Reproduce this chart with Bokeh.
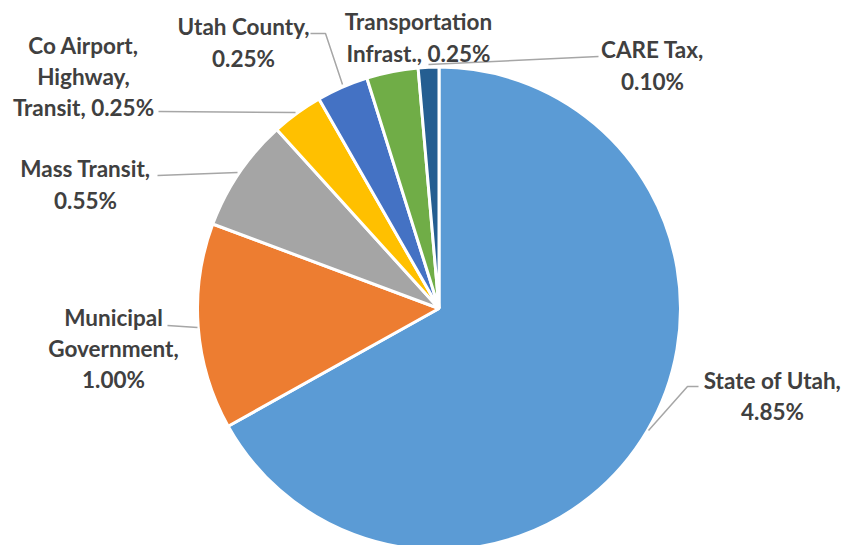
import math
from bokeh.plotting import figure
from bokeh.models import Range1d, ColumnDataSource
from bokeh.core.properties import value
from bokeh.embed import file_html
from bokeh.resources import INLINE

# ---- data ----
names = ["State of Utah", "Municipal\nGovernment", "Mass Transit",
         "Co Airport,\nHighway,\nTransit", "Utah County",
         "Transportation\nInfrast.", "CARE Tax"]
rates = [4.85, 1.00, 0.55, 0.25, 0.25, 0.25, 0.10]
seps = [",\n", ",\n", ",\n", ", ", ",\n", ", ", ",\n"]
colors = ["#5B9BD5", "#ED7D31", "#A5A5A5", "#FFC000", "#4472C4", "#70AD47", "#255E91"]

# ---- layout (page pixel coordinates of the reference) ----
W, H = 856, 545
def X(px): return px
def Y(py): return H - py

cx, cy, R = X(438.5), Y(308), 241.5
label_pos = [(772, 395.5), (113, 348), (85, 184), (83, 76),
             (243, 42), (418, 37), (652, 65)]
leaders = [
    [(698, 386), (687, 386), (648, 430)],
    [(167, 325), (197, 327)],
    [(157, 175), (237, 172)],
    [(158, 111), (295, 112)],
    [(310, 33), (325, 33), (342, 84)],
    [],
    [(598, 56), (428, 64)],
]

total = sum(rates)
starts, ends = [], []
acc = 0.0
for r in rates:
    starts.append(math.pi / 2 - acc / total * 2 * math.pi)
    acc += r
    ends.append(math.pi / 2 - acc / total * 2 * math.pi)

p = figure(width=W, height=H, output_backend="svg", toolbar_location=None,
           x_range=Range1d(0, W), y_range=Range1d(0, H), min_border=0)
p.axis.visible = False
p.grid.visible = False
p.outline_line_color = None

src = ColumnDataSource(dict(start=starts, end=ends, color=colors))
p.wedge(x=cx, y=cy, radius=R, start_angle="start", end_angle="end",
        direction="clock", fill_color="color", line_color="white",
        line_width=3, source=src)

for pts in leaders:
    if pts:
        p.line([X(a) for a, b in pts], [Y(b) for a, b in pts],
               line_color="#A6A6A6", line_width=1.5)

labels = [f"{n}{s}{v:.2f}%" for n, s, v in zip(names, seps, rates)]
p.text(x=[X(a) for a, b in label_pos], y=[Y(b) for a, b in label_pos],
       text=labels, text_align="center", text_baseline="middle",
       text_font=value("Lato"), text_font_style="bold",
       text_font_size="22.5px", text_color="#404040", text_line_height=1.15)

open("out.html", "w").write(file_html(p, INLINE))
